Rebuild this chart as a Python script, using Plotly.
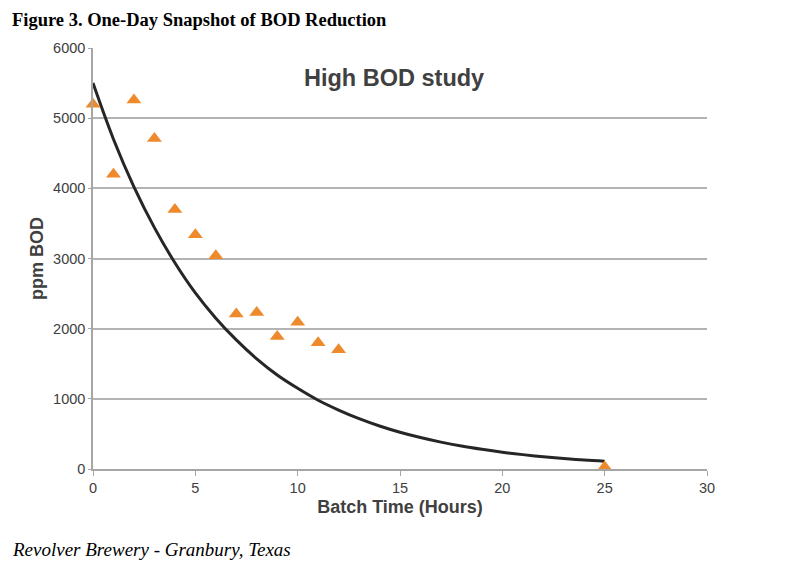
import plotly.graph_objects as go

# Measured BOD (ppm) at batch time (hours)
hours = [0, 1, 2, 3, 4, 5, 6, 7, 8, 9, 10, 11, 12, 25]
bod = [5200, 4200, 5260, 4710, 3700, 3340, 3040, 2210, 2230, 1890, 2090, 1800, 1700, 30]

# Trendline values
trend_hours = list(range(0, 26))
trend_bod = [5500, 4700, 4020, 3440, 2940, 2510, 2150, 1840, 1570, 1340,
             1150, 980, 840, 717, 613, 524, 448, 383, 327, 280,
             239, 205, 175, 150, 128, 112]

x_ticks = [0, 5, 10, 15, 20, 25, 30]
y_ticks = [0, 1000, 2000, 3000, 4000, 5000, 6000]

fig = go.Figure()
fig.add_trace(go.Scatter(
    x=trend_hours, y=trend_bod, mode="lines", line_shape="spline",
    line=dict(color="#262626", width=3), showlegend=False, hoverinfo="skip",
    cliponaxis=False))
fig.add_trace(go.Scatter(
    x=hours, y=bod, mode="markers", cliponaxis=False,
    marker=dict(symbol="triangle-up", size=13, color="#EE8A2B",
                line=dict(width=0)),
    showlegend=False))

axis_font = dict(family="Liberation Sans, Arial", size=14.5, color="#404040")
fig.update_layout(
    width=800, height=570,
    margin=dict(l=85, r=101, t=40, b=109),
    paper_bgcolor="white", plot_bgcolor="white",
    xaxis=dict(range=[0, 30], tickvals=x_ticks, showgrid=False,
               showline=True, linecolor="#A6A6A6", linewidth=1.5,
               ticks="outside", ticklen=5, tickcolor="#A6A6A6",
               tickfont=axis_font, zeroline=False,
               title=dict(text="<b>Batch Time (Hours)</b>",
                          font=dict(family="Liberation Sans, Arial", size=18, color="#404040"),
                          standoff=5)),
    yaxis=dict(range=[0, 6000], tickvals=y_ticks, showgrid=True,
               gridcolor="#B3B3B3", gridwidth=1.5,
               showline=True, linecolor="#A6A6A6", linewidth=1.5,
               ticks="outside", ticklen=3, tickcolor="#A6A6A6",
               tickfont=axis_font, zeroline=False,
               title=dict(text="<b>ppm BOD</b>",
                          font=dict(family="Liberation Sans, Arial", size=18, color="#404040"),
                          standoff=5)),
    annotations=[
        dict(text="<b>Figure 3. One-Day Snapshot of BOD Reduction</b>",
             xref="paper", yref="paper", x=-83/614, y=1 + 28/421,
             xanchor="left", yanchor="middle", showarrow=False,
             font=dict(family="Liberation Serif, Times New Roman", size=18.5, color="black")),
        dict(text="<b>High BOD study</b>",
             xref="paper", yref="paper", x=0.49, y=1 - 30/421,
             xanchor="center", yanchor="middle", showarrow=False,
             font=dict(family="Liberation Sans, Arial", size=23.5, color="#404040")),
        dict(text="<i>Revolver Brewery - Granbury, Texas</i>",
             xref="paper", yref="paper", x=-83/614, y=-(549 - 469) / 421,
             xanchor="left", yanchor="middle", showarrow=False,
             font=dict(family="Liberation Serif, Times New Roman", size=19, color="black")),
    ],
)

fig.write_html("out.html")
